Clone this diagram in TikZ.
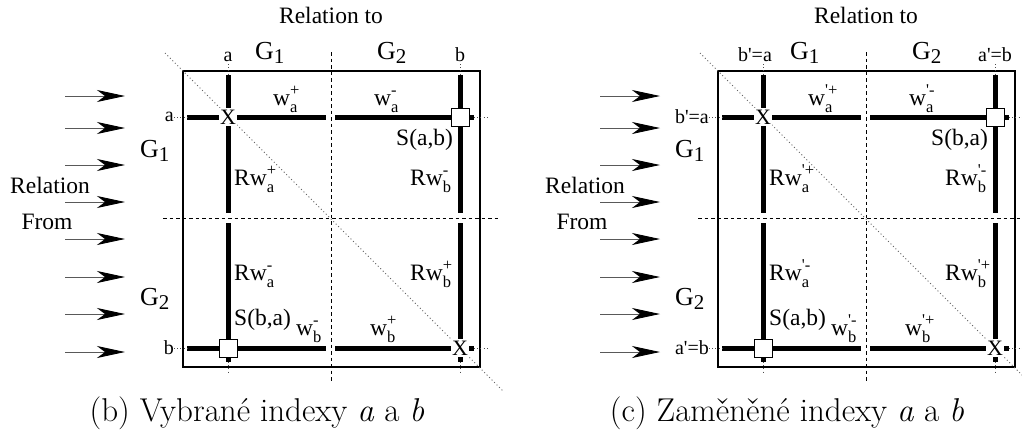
\documentclass[tikz,border=0pt]{standalone}
\usepackage{fontspec}
\newfontfamily\tms{Liberation Serif}
\usetikzlibrary{arrows.meta}
\newcommand\lblf{\tms\fontsize{23.5}{23.5}\selectfont}
\newcommand\subf{\tms\fontsize{16.5}{16.5}\selectfont}
\newcommand\wsub[3]{#1\rlap{\raisebox{-7pt}{\subf #2}}\raisebox{10pt}{\subf #3}}
\newcommand\Gsub[1]{{\tms\fontsize{26}{26}\selectfont G}\raisebox{-4pt}{\tms\fontsize{21}{21}\selectfont #1}}
\tikzset{
  lab/.style={font=\lblf, inner sep=0pt},
  smalllab/.style={font={\tms\fontsize{20}{20}\selectfont}, inner sep=0pt},
  thickln/.style={line width=5pt},
  frameln/.style={draw, line width=2pt, inner sep=0pt},
  dashln/.style={line width=0.9pt, dash pattern=on 3.5pt off 3pt},
  dotln/.style={line width=0.9pt, dash pattern=on 1pt off 2.2pt, black!70},
  diagln/.style={line width=0.9pt, dash pattern=on 1pt off 2.5pt, black!60},
  xmark/.style={font={\tms\fontsize{22}{22}\selectfont}, fill=white, inner sep=1.5pt},
  sqmark/.style={draw, fill=white, line width=1pt, minimum size=18pt, inner sep=0pt},
  arr/.style={line width=0.9pt, draw=black!65, -{Stealth[length=28pt,width=12pt,inset=8pt,color=black]}},
  captxt/.style={font={\fontsize{33}{39}\selectfont\addfontfeature{LetterSpace=3}}, inner sep=0pt, anchor=base}
}
% #1 top label (col a), #2 its x, #3 side label (row a), #4 top label (col b),
% #5 side label (row b), #6 prime, #7 S upper right, #8 S lower left
\newcommand\panel[8]{%
  \node[lab, anchor=center] (relto) at (331,15) {Relation to};
  \node[anchor=base west, inner sep=0pt] (g1t) at (255,59) {\Gsub{1}};
  \node[anchor=base west, inner sep=0pt] (g2t) at (377,59) {\Gsub{2}};
  \node[anchor=base west, inner sep=0pt] (g1l) at (140,157) {\Gsub{1}};
  \node[anchor=base west, inner sep=0pt] (g2l) at (140,305) {\Gsub{2}};
  \node[lab, anchor=center] (relfrom) at (50,185) {Relation};
  \node[lab, anchor=center] (from) at (47,222) {From};
  \foreach \yy [count=\i] in {96,128,165,202,239,277,314,352}{
    \coordinate (s\i) at (65,\yy); \coordinate (e\i) at (125,\yy);
    \draw[arr] (s\i) -- (e\i);
  }
  % frame and separators
  \node[frameln, minimum width=297pt, minimum height=296pt, anchor=north west] (box) at (182,70) {};
  \draw[diagln] (165,53) -- (504,392);
  \draw[dashln] (163,218) -- (500,218);
  \draw[dashln] (331,52) -- (331,382);
  % labels at line ends
  \node[smalllab, anchor=base] (ta) at (#2,61) {#1};
  \node[smalllab, anchor=base] (tb) at (460,61) {#4};
  \node[smalllab, anchor=east] (la) at (174,117) {#3};
  \node[smalllab, anchor=east] (lb) at (174,348) {#5};
  % thick lines
  \draw[thickln] (187,117) -- (326,117);
  \draw[thickln] (335,117) -- (474,117);
  \draw[thickln] (187,348) -- (326,348);
  \draw[thickln] (335,348) -- (474,348);
  \draw[thickln] (228,75) -- (228,213);
  \draw[thickln] (228,223) -- (228,362);
  \draw[thickln] (460,75) -- (460,213);
  \draw[thickln] (460,223) -- (460,362);
  % dotted extensions
  \draw[dotln] (la.east) -- (187,117);
  \draw[dotln] (lb.east) -- (187,348);
  \draw[dotln] (474,117) -- (487,117);
  \draw[dotln] (474,348) -- (487,348);
  \draw[dotln] (228,64) -- (228,75);
  \draw[dotln] (460,64) -- (460,75);
  \draw[dotln] (228,362) -- (228,374);
  \draw[dotln] (460,362) -- (460,374);
  % markers
  \node[xmark] (xa) at (228,117) {X};
  \node[xmark] (xb) at (460,348) {X};
  \node[sqmark] (sab) at (460,117) {};
  \node[sqmark] (sba) at (228,348) {};
  % weight labels
  \node[lab, anchor=base west] (wap) at (273,105) {\wsub{w}{a}{#6+}};
  \node[lab, anchor=base west] (wam) at (374,105) {\wsub{w}{a}{#6-}};
  \node[lab, anchor=base west] (Sup) at (396,145) {#7};
  \node[lab, anchor=base west] (Rwap) at (234,185) {\wsub{Rw}{a}{#6+}};
  \node[lab, anchor=base west] (Rwbm) at (410,185) {\wsub{Rw}{b}{#6-}};
  \node[lab, anchor=base west] (Rwam) at (234,280) {\wsub{Rw}{a}{#6-}};
  \node[lab, anchor=base west] (Rwbp) at (410,280) {\wsub{Rw}{b}{#6+}};
  \node[lab, anchor=base west] (Slo) at (234,325) {#8};
  \node[lab, anchor=base west] (wbm) at (296,335) {\wsub{w}{b}{#6-}};
  \node[lab, anchor=base west] (wbp) at (370,335) {\wsub{w}{b}{#6+}};
}
\begin{document}
\begin{tikzpicture}[x=1pt, y=-1pt]
  \useasboundingbox (0,0) rectangle (1022,437);
  \begin{scope}[name prefix=b-]
    \panel{a}{228}{a}{b}{b}{}{S(a,b)}{S(b,a)}
  \end{scope}
  \begin{scope}[xshift=535pt, name prefix=c-]
    \panel{b'=a}{220}{b'=a}{a'=b}{a'=b}{'}{S(b,a)}{S(a,b)}
  \end{scope}
  \node[captxt] (capb) at (257,421) {(b) Vybrané indexy \textit{a} a \textit{b}};
  \node[captxt] (capc) at (787,421) {(c) Zaměněné indexy \textit{a} a \textit{b}};
\end{tikzpicture}
\end{document}
